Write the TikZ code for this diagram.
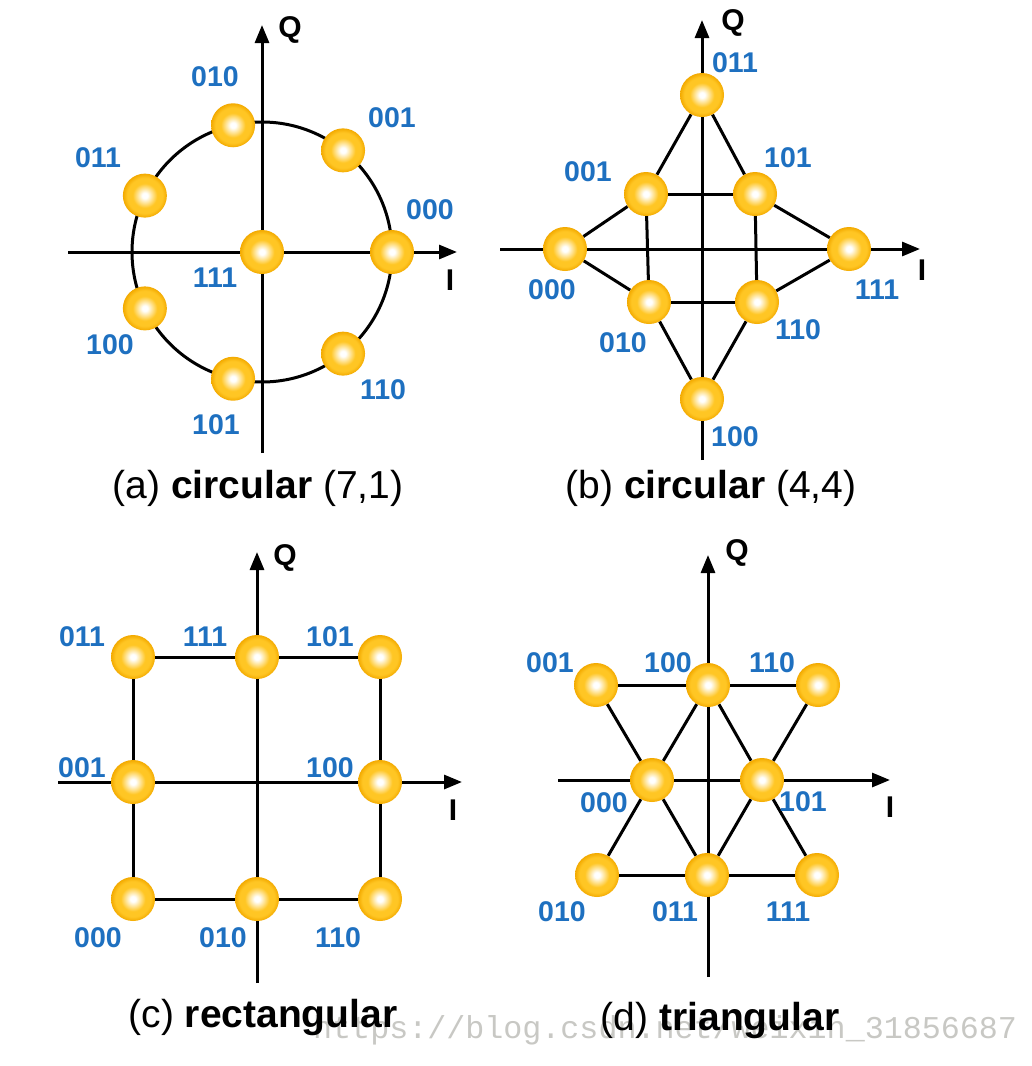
\documentclass[tikz,border=0pt]{standalone}
\usepackage{fontspec}
\setmainfont{Liberation Sans}
\newfontfamily\markfont{Liberation Mono}
\usetikzlibrary{arrows.meta,backgrounds}

\definecolor{bitblue}{RGB}{30,112,192}
\definecolor{ballyellow}{RGB}{255,198,36}
\definecolor{ballorange}{RGB}{243,170,0}
\definecolor{markgray}{RGB}{200,200,196}
\pgfdeclareradialshading{ballshade}{\pgfpoint{0bp}{0bp}}{color(0bp)=(white); color(3bp)=(white); color(14bp)=(ballyellow); color(20bp)=(ballyellow); color(25bp)=(ballorange); color(50bp)=(ballorange)}

\tikzset{
  ball/.style={circle, minimum size=44pt, inner sep=0pt, shading=ballshade},
  bits/.style={text=bitblue, font=\fontsize{28.5}{28.5}\selectfont\bfseries, inner sep=0pt},
  axis/.style={line width=3pt, ->, >={Triangle[length=18pt,width=14pt]}},
  link/.style={line width=3pt},
  axlbl/.style={font=\fontsize{30}{30}\selectfont\bfseries, inner sep=0pt},
  caption/.style={font=\fontsize{39}{39}\selectfont, inner sep=0pt}
}

\begin{document}
\begin{tikzpicture}[x=1pt, y=1pt]
    \useasboundingbox (0,0) rectangle (1032,-1066);
    \begin{pgfonlayer}{background}
        \fill[white] (0,0) rectangle (1032,-1066);
    \end{pgfonlayer}

    % (a) circular (7,1)
    \begin{scope}[shift={(262,-252)}]
        \coordinate (aW) at (-194,0);
        \coordinate (aE) at (195,0);
        \coordinate (aS) at (0,-201);
        \coordinate (aN) at (0,227);
        \node[ball] (a111) at (0,0) {};
        \foreach \n/\a in {000/0, 001/51.43, 010/102.86, 011/154.29, 100/205.71, 101/257.14, 110/308.57}
            \node[ball] (a\n) at (\a:130) {};
        \foreach \n/\p in {010/{-47,175}, 001/{130,134}, 011/{-164,94}, 000/{168,42},
                           111/{-47,-26}, 100/{-152,-93}, 110/{121,-138}, 101/{-46,-173}}
            \node[bits] (al\n) at (\p) {\n};
        \node[axlbl] (aQ) at (28,222) {Q};
        \node[axlbl] (aI) at (188,-28) {I};
        \begin{pgfonlayer}{background}
            \draw[axis] (aW) -- (aE);
            \draw[axis] (aS) -- (aN);
            \draw[link] (0,0) circle (130pt);
        \end{pgfonlayer}
    \end{scope}

    % (b) circular (4,4)
    \begin{scope}[shift={(702,-249)}]
        \coordinate (bW) at (-202,0);
        \coordinate (bE) at (218,0);
        \coordinate (bS) at (0,-211);
        \coordinate (bN) at (0,229);
        \foreach \n/\p in {011/{0,154}, 001/{-56,55}, 101/{53,55}, 000/{-137,0},
                           111/{147,0}, 010/{-53,-53}, 110/{55,-53}, 100/{0,-150}}
            \node[ball] (b\n) at (\p) {};
        \foreach \n/\p in {011/{33,186}, 001/{-114,77}, 101/{86,91}, 000/{-150,-41},
                           111/{175,-41}, 010/{-79,-94}, 110/{96,-81}, 100/{33,-188}}
            \node[bits] (bl\n) at (\p) {\n};
        \node[axlbl] (bQ) at (31,226) {Q};
        \node[axlbl] (bI) at (220,-21) {I};
        \begin{pgfonlayer}{background}
            \draw[axis] (bW) -- (bE);
            \draw[axis] (bS) -- (bN);
            \foreach \u/\v in {011/001, 011/101, 001/101, 001/000, 101/111, 001/010,
                               101/110, 000/010, 111/110, 010/110, 010/100, 110/100}
                \draw[link] (b\u) -- (b\v);
        \end{pgfonlayer}
    \end{scope}

    % (c) rectangular
    \begin{scope}[shift={(257,-782)}]
        \coordinate (cW) at (-199,0);
        \coordinate (cE) at (205,0);
        \coordinate (cS) at (0,-201);
        \coordinate (cN) at (0,230);
        \foreach \n/\p in {011/{-124,125}, 111/{0,125}, 101/{123,125}, 001/{-124,0},
                           100/{123,0}, 000/{-124,-117}, 010/{0,-117}, 110/{123,-117}}
            \node[ball] (c\n) at (\p) {};
        \foreach \n/\p in {011/{-175,145}, 111/{-52,145}, 101/{73,145}, 001/{-175,14},
                           100/{73,14}, 000/{-159,-156}, 010/{-34,-156}, 110/{81,-156}}
            \node[bits] (cl\n) at (\p) {\n};
        \node[axlbl] (cQ) at (28,224) {Q};
        \node[axlbl] (cI) at (196,-28) {I};
        \begin{pgfonlayer}{background}
            \draw[axis] (cW) -- (cE);
            \draw[axis] (cS) -- (cN);
            \draw[link] (c011) -- (c111) -- (c101) -- (c100) -- (c110) -- (c010) -- (c000) -- (c001) -- (c011);
        \end{pgfonlayer}
    \end{scope}

    % (d) triangular
    \begin{scope}[shift={(708,-780)}]
        \coordinate (dW) at (-150,0);
        \coordinate (dE) at (182,0);
        \coordinate (dS) at (0,-197);
        \coordinate (dN) at (0,225);
        \foreach \n/\p in {001/{-112,95}, 100/{0,95}, 110/{110,95}, 000/{-56,0},
                           101/{54,0}, 010/{-111,-95}, 011/{-1,-95}, 111/{109,-95}}
            \node[ball] (d\n) at (\p) {};
        \foreach \n/\p in {001/{-158,117}, 100/{-40,117}, 110/{64,117}, 000/{-104,-23},
                           101/{95,-22}, 010/{-146,-132}, 011/{-33,-132}, 111/{80,-132}}
            \node[bits] (dl\n) at (\p) {\n};
        \node[axlbl] (dQ) at (29,227) {Q};
        \node[axlbl] (dI) at (182,-27) {I};
        \begin{pgfonlayer}{background}
            \draw[axis] (dW) -- (dE);
            \draw[axis] (dS) -- (dN);
            \foreach \u/\v in {001/100, 100/110, 010/011, 011/111, 001/000, 000/011,
                               100/000, 000/010, 100/101, 101/111, 110/101, 101/011}
                \draw[link] (d\u) -- (d\v);
        \end{pgfonlayer}
    \end{scope}

    % watermark, under the captions
    \node[anchor=base west, inner sep=0pt, text=markgray, font=\markfont\fontsize{31.7}{31.7}\selectfont]
        (mark) at (313,-1038) {https://blog.csdn.net/weixin\_31856687};

    % Captions
    \node[caption] (capa) at (258,-488) {(a) \textbf{circular} (7,1)};
    \node[caption] (capb) at (711,-488) {(b) \textbf{circular} (4,4)};
    \node[caption] (capc) at (263,-1017) {(c) \textbf{rectangular}};
    \node[caption] (capd) at (720,-1020) {(d) \textbf{triangular}};
\end{tikzpicture}
\end{document}
